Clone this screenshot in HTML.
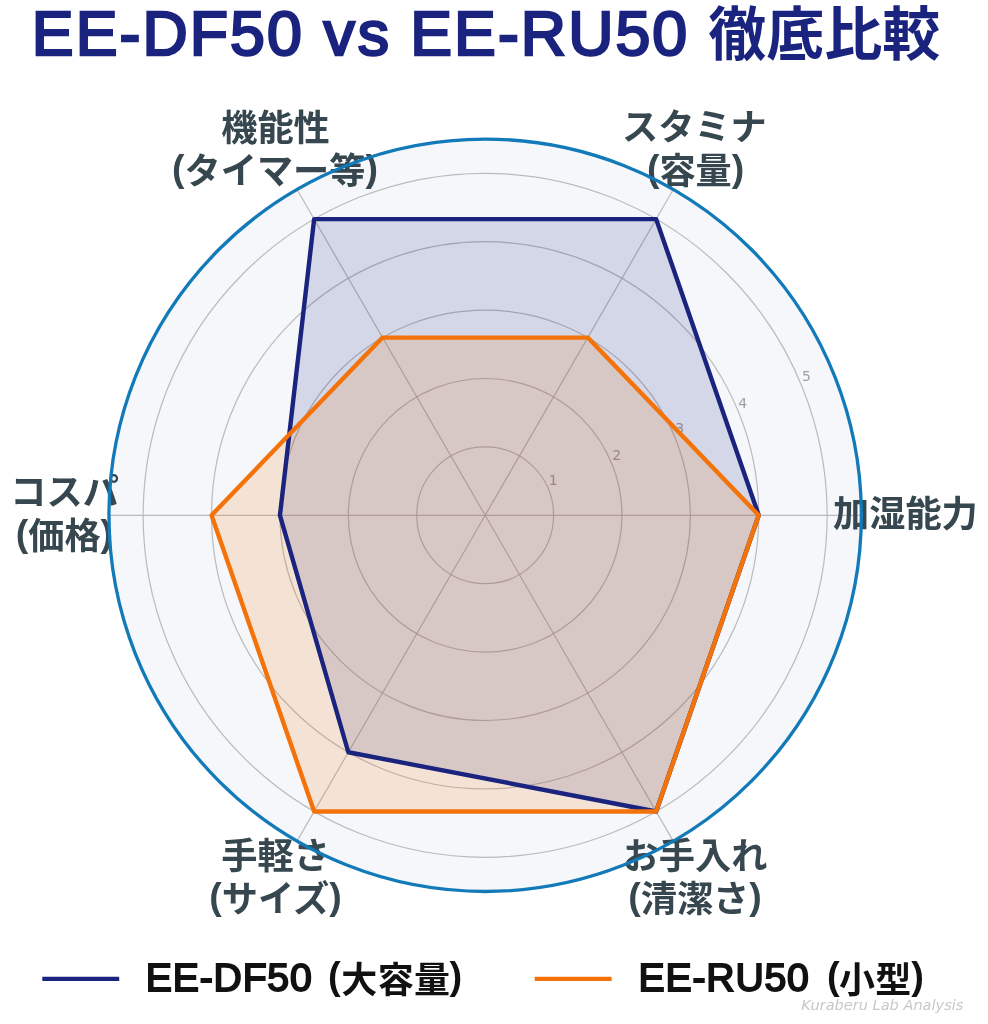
<!DOCTYPE html>
<html lang="ja">
<head>
<meta charset="utf-8">
<title>EE-DF50 vs EE-RU50 徹底比較</title>
<style>
html,body{margin:0;padding:0;background:#ffffff;}
body{width:988px;height:1024px;overflow:hidden;}
svg{display:block;}
text{font-family:'Liberation Sans','Noto Sans CJK JP',sans-serif;}
.t{font-weight:700;fill:#1a237e;}
.lab{font-weight:700;fill:#37474f;font-size:36.2px;text-anchor:middle;}
.leg{font-weight:700;fill:#111111;font-size:36px;}
.rt{font-family:'DejaVu Sans','Liberation Sans',sans-serif;font-size:14px;fill:#9e9e9e;text-anchor:middle;}
.wm{font-family:'DejaVu Sans','Liberation Sans',sans-serif;font-style:italic;font-size:14.55px;fill:#c8c8c8;text-anchor:end;}
</style>
</head>
<body>
<svg width="988" height="1024" viewBox="0 0 988 1024">
<rect x="0" y="0" width="988" height="1024" fill="#ffffff"/>
<text class="t" transform="translate(31.8,54.6)" font-size="62.6" stroke="#1a237e" stroke-width="2.5" stroke-linejoin="miter" letter-spacing="2.1" style="font-weight:400">EE-DF50 <tspan letter-spacing="3">vs</tspan> <tspan dx="-1.3">EE-RU50</tspan></text>
<text class="t" x="708.2" y="54.7" font-size="58">徹底比較</text>
<circle cx="485.15" cy="515.30" r="376.20" fill="#f5f7fa"/>
<g fill="none" stroke="#b0b0b0" stroke-width="1.2" stroke-opacity="0.85">
<circle cx="485.15" cy="515.30" r="68.40"/>
<circle cx="485.15" cy="515.30" r="136.80"/>
<circle cx="485.15" cy="515.30" r="205.20"/>
<circle cx="485.15" cy="515.30" r="273.60"/>
<circle cx="485.15" cy="515.30" r="342.00"/>
<line x1="485.15" y1="515.30" x2="861.35" y2="515.30"/>
<line x1="485.15" y1="515.30" x2="673.25" y2="189.50"/>
<line x1="485.15" y1="515.30" x2="297.05" y2="189.50"/>
<line x1="485.15" y1="515.30" x2="108.95" y2="515.30"/>
<line x1="485.15" y1="515.30" x2="297.05" y2="841.10"/>
<line x1="485.15" y1="515.30" x2="673.25" y2="841.10"/>
</g>
<text class="rt" x="553.1" y="485.4">1</text>
<text class="rt" x="616.7" y="459.6">2</text>
<text class="rt" x="679.6" y="433.4">3</text>
<text class="rt" x="742.6" y="408.1">4</text>
<text class="rt" x="806.5" y="380.9">5</text>
<text class="lab" x="905.4" y="526.8">加湿能力</text>
<text class="lab" x="694.4" y="140.3">スタミナ</text>
<text class="lab" x="695.6" y="183.7"><tspan style="font-size:37.5px" dy="-2.7">(</tspan><tspan dy="2.7">容量</tspan><tspan style="font-size:37.5px" dy="-2.7">)</tspan></text>
<text class="lab" x="275.5" y="141.2">機能性</text>
<text class="lab" x="275.0" y="183.5"><tspan style="font-size:37.5px" dy="-2.7">(</tspan><tspan dy="2.7">タイマー等</tspan><tspan style="font-size:37.5px" dy="-2.7">)</tspan></text>
<text class="lab" x="64.6" y="505.2">コスパ</text>
<text class="lab" x="64.4" y="548.7"><tspan style="font-size:37.5px" dy="-2.7">(</tspan><tspan dy="2.7">価格</tspan><tspan style="font-size:37.5px" dy="-2.7">)</tspan></text>
<text class="lab" x="275.5" y="869.2">手軽さ</text>
<text class="lab" x="275.5" y="911.7"><tspan style="font-size:37.5px" dy="-2.7">(</tspan><tspan dy="2.7">サイズ</tspan><tspan style="font-size:37.5px" dy="-2.7">)</tspan></text>
<text class="lab" x="695.0" y="869.2">お手入れ</text>
<text class="lab" x="695.0" y="911.7"><tspan style="font-size:37.5px" dy="-2.7">(</tspan><tspan dy="2.7">清潔さ</tspan><tspan style="font-size:37.5px" dy="-2.7">)</tspan></text>
<polygon points="758.75,515.30 656.15,219.12 314.15,219.12 279.95,515.30 348.35,752.24 656.15,811.48" fill="#1a237e" fill-opacity="0.15" stroke="none"/>
<polygon points="758.75,515.30 587.75,337.59 382.55,337.59 211.55,515.30 314.15,811.48 656.15,811.48" fill="#f3730a" fill-opacity="0.15" stroke="none"/>
<polygon points="758.75,515.30 656.15,219.12 314.15,219.12 279.95,515.30 348.35,752.24 656.15,811.48" fill="none" stroke="#1a237e" stroke-width="4.4" stroke-linejoin="round"/>
<polygon points="758.75,515.30 587.75,337.59 382.55,337.59 211.55,515.30 314.15,811.48 656.15,811.48" fill="none" stroke="#f3730a" stroke-width="4.4" stroke-linejoin="round"/>
<circle cx="485.15" cy="515.30" r="376.20" fill="none" stroke="#127ab8" stroke-width="3.3"/>
<line x1="42.3" y1="978.9" x2="119.2" y2="978.9" stroke="#1a237e" stroke-width="4.2"/>
<text class="leg" transform="translate(145.8,991.2)" style="font-size:39.2px;font-weight:400" stroke="#111111" stroke-width="1.9" stroke-linejoin="miter" letter-spacing="0.8">EE-DF50</text>
<text class="leg" y="992.6"><tspan x="328.0" y="989.2" style="font-size:38px">(</tspan><tspan x="341.3" y="992.6" letter-spacing="0.4">大容量</tspan><tspan x="449.6" y="989.2" style="font-size:38px">)</tspan></text>
<line x1="534.7" y1="978.9" x2="611.6" y2="978.9" stroke="#f3730a" stroke-width="4.2"/>
<text class="leg" transform="translate(638.6,991.2)" style="font-size:39.2px;font-weight:400" stroke="#111111" stroke-width="1.9" stroke-linejoin="miter" letter-spacing="0.8">EE-RU50</text>
<text class="leg" y="992.6"><tspan x="827.0" y="989.2" style="font-size:38px">(</tspan><tspan x="838.9" y="992.6" letter-spacing="0.4">小型</tspan><tspan x="911.2" y="989.2" style="font-size:38px">)</tspan></text>
<text class="wm" x="963.4" y="1010.3">Kuraberu Lab Analysis</text>
</svg>
</body>
</html>
